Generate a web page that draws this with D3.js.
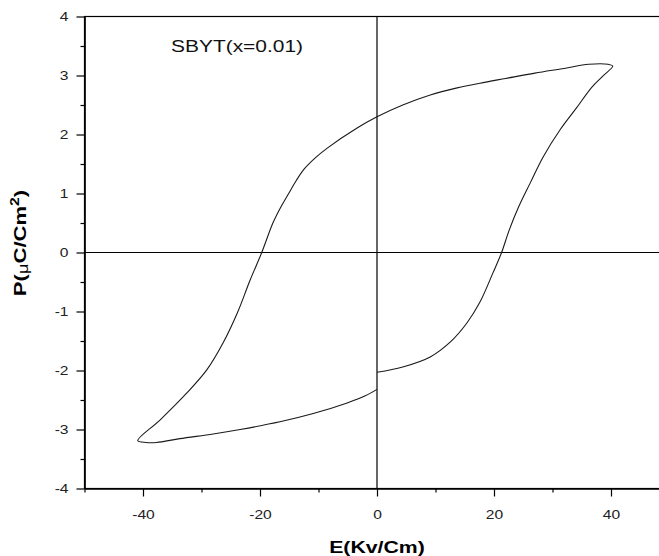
<!DOCTYPE html>
<html lang="en">
<head>
	<meta charset="UTF-8">
	<script src="https://d3js.org/d3.v7.min.js"></script>
	<style>
	body { margin: 0; background: #fff; }
	svg { display: block; font-family: "Liberation Sans", Arial, sans-serif; }
	</style>
	<title>P-E loop</title>
</head>
<body>
	<div id="chart"></div>
	<script>
		// loop as measured: starts at E=0 on the lower branch, goes to +Emax, back to -Emax, back to 0
		const fieldE = [0, 4.4, 9.1, 12.5, 15.4, 17.6, 19.8, 21.3, 22.6, 24.2, 26.2, 28.4, 31.3, 34.1, 36.7, 38.6, 40.3,
			39.5, 36.2, 32.0, 27.0, 22.0, 17.6, 13.7, 9.1, 4.4, 0, -3.4, -8.5, -10.6, -12.4, -13.8, -15.1, -16.5, -17.8, -19.7,
			-21.7, -23.9, -26.3, -29.1, -32.5, -37.1, -40.9,
			-39.5, -37.7, -33.7, -28.0, -23.4, -16.6, -10.9, -5.1, -2.0, 0];
		const polP = [-2.03, -1.94, -1.77, -1.52, -1.19, -0.84, -0.35, 0, 0.38, 0.77, 1.18, 1.62, 2.08, 2.45, 2.80, 2.99, 3.16,
			3.19, 3.19, 3.12, 3.04, 2.95, 2.87, 2.79, 2.67, 2.50, 2.30, 2.11, 1.77, 1.60, 1.42, 1.22, 1.00, 0.76, 0.50, 0,
			-0.47, -1.03, -1.53, -1.99, -2.38, -2.84, -3.19,
			-3.22, -3.22, -3.155, -3.075, -3.0, -2.87, -2.73, -2.55, -2.43, -2.32];

		const xMajor = [-40, -20, 0, 20, 40];
		const xMinor = [-50, -30, -10, 10, 30, 50];
		const yMajor = [-4, -3, -2, -1, 0, 1, 2, 3, 4];
		const yMinor = [-3.5, -2.5, -1.5, -0.5, 0.5, 1.5, 2.5, 3.5];

		const width = 659, height = 556;
		const plotL = 84.5, plotT = 16.5, plotB = 488.5, plotR = 669.5;

		const svg = d3.select("#chart").append("svg")
			.attr("width", width)
			.attr("height", height);

		const x = d3.scaleLinear().domain([-50, 50]).range([plotL, plotR]);
		const y = d3.scaleLinear().domain([-4, 4]).range([plotB, plotT]);

		// the original figure text is a bit wider than plain Arial
		function stretch(sel, k) {
			sel.each(function() {
				const t = d3.select(this);
				const tx = +t.attr("x") || 0;
				t.attr("transform", "translate(" + tx + ",0) scale(" + k + ",1) translate(" + (-tx) + ",0)");
			});
		}

		// frame
		svg.append("rect")
			.attr("x", plotL).attr("y", plotT)
			.attr("width", plotR - plotL).attr("height", plotB - plotT)
			.attr("fill", "none").attr("stroke", "#000").attr("stroke-width", 1.2);

		// zero lines
		svg.append("line")
			.attr("x1", plotL).attr("x2", plotR)
			.attr("y1", y(0)).attr("y2", y(0))
			.attr("stroke", "#000").attr("stroke-width", 1.2);
		svg.append("line")
			.attr("x1", x(0)).attr("x2", x(0))
			.attr("y1", plotT).attr("y2", plotB)
			.attr("stroke", "#000").attr("stroke-width", 1.2);

		// bottom axis
		svg.append("g")
			.attr("transform", "translate(0," + plotB + ")")
			.call(d3.axisBottom(x).tickValues(xMajor).tickSize(8).tickPadding(13)
				.tickFormat(d => String(d)).tickSizeOuter(0));
		svg.append("g")
			.attr("transform", "translate(0," + plotB + ")")
			.call(d3.axisBottom(x).tickValues(xMinor).tickSize(4).tickFormat("").tickSizeOuter(0));

		// left axis
		svg.append("g")
			.attr("transform", "translate(" + plotL + ",0)")
			.call(d3.axisLeft(y).tickValues(yMajor).tickSize(8).tickPadding(8)
				.tickFormat(d => String(d)).tickSizeOuter(0));
		svg.append("g")
			.attr("transform", "translate(" + plotL + ",0)")
			.call(d3.axisLeft(y).tickValues(yMinor).tickSize(4).tickFormat("").tickSizeOuter(0));

		svg.selectAll(".domain").attr("stroke", "#000").attr("stroke-width", 1.2);
		svg.selectAll(".tick line").attr("stroke", "#000").attr("stroke-width", 1.2);
		svg.selectAll(".tick text")
			.attr("font-family", "'Liberation Sans', Arial, sans-serif")
			.attr("font-size", 13)
			.attr("fill", "#222");
		stretch(svg.selectAll(".tick text"), 1.2);

		// hysteresis loop
		const pts = fieldE.map((e, i) => [e, polP[i]]);
		const line = d3.line()
			.x(d => x(d[0]))
			.y(d => y(d[1]))
			.curve(d3.curveCatmullRom.alpha(0.5));
		svg.append("path")
			.datum(pts)
			.attr("d", line)
			.attr("fill", "none")
			.attr("stroke", "#1a1a1a")
			.attr("stroke-width", 1.1);

		// sample label
		svg.append("text")
			.attr("x", 171).attr("y", 52)
			.attr("font-size", 16.5)
			.attr("fill", "#111")
			.text("SBYT(x=0.01)")
			.call(stretch, 1.27);

		// axis titles
		svg.append("text")
			.attr("x", x(0)).attr("y", 553)
			.attr("text-anchor", "middle")
			.attr("font-size", 17)
			.attr("font-weight", "bold")
			.text("E(Kv/Cm)")
			.call(stretch, 1.25);

		const yt = svg.append("text")
			.attr("transform", "translate(26,243) rotate(-90) scale(1.3,1)")
			.attr("text-anchor", "middle")
			.attr("font-size", 17)
			.attr("font-weight", "bold");
		yt.append("tspan").text("P(");
		yt.append("tspan").attr("font-weight", "normal").attr("font-size", 14).attr("dy", 2).text("μ");
		yt.append("tspan").attr("dy", -2).text("C/Cm");
		yt.append("tspan").attr("font-size", 12).attr("dy", -7).text("2");
		yt.append("tspan").attr("dy", 7).text(")");
	</script>
</body>
</html>
